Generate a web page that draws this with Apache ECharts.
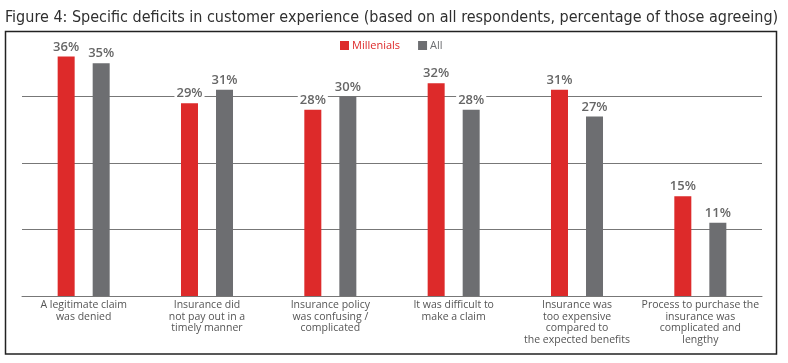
<!DOCTYPE html>
<html><head><meta charset="utf-8">
<script src="https://cdn.jsdelivr.net/npm/echarts@6/dist/echarts.min.js"></script>
<style>html,body{margin:0;padding:0;background:#fff}#c{width:788px;height:363px}</style>
</head><body><div id="c"></div>
<script>
const titleText = 'Figure 4: Specific deficits in customer experience (based on all respondents, percentage of those agreeing)';
const categories = [
  'A legitimate claim\nwas denied',
  'Insurance did\nnot pay out in a\ntimely manner',
  'Insurance policy\nwas confusing /\ncomplicated',
  'It was difficult to\nmake a claim',
  'Insurance was\ntoo expensive\ncompared to\nthe expected benefits',
  'Process to purchase the\ninsurance was\ncomplicated and\nlengthy'
];
const seriesNames = ['Millenials', 'All'];
const millenials = [36, 29, 28, 32, 31, 15];
const allResp = [35, 31, 30, 28, 27, 11];

const RED = '#dd2a2a', GRAY = '#6d6e71';
const chart = echarts.init(document.getElementById('c'), null, {renderer: 'canvas'});
const lbl = {
  show: true, position: 'top', distance: 3,
  formatter: '{c}%', color: '#666', fontFamily: 'Open Sans', fontWeight: 600, fontSize: 13,
  backgroundColor: '#fff', padding: [0, 2, 0, 2]
};
chart.setOption({
  animation: false,
  title: {
    text: titleText, left: 0, top: 5, padding: [5, 5, 5, 5],
    textStyle: {fontFamily: "'DejaVu Sans Condensed','Liberation Sans Narrow',Roboto", fontWeight: 'normal', fontSize: 16, color: '#2f2f2f'}
  },
  graphic: [{
    type: 'rect', z: -1, silent: true,
    shape: {x: 5.5, y: 31.5, width: 771, height: 322.5},
    style: {fill: 'none', stroke: '#222', lineWidth: 1.5}
  }],
  legend: {
    left: 335, top: 35, icon: 'rect', itemWidth: 9, itemHeight: 9, itemGap: 18,
    textStyle: {fontFamily: 'Open Sans', fontSize: 11, padding: [0, 0, 0, -2]},
    data: [
      {name: seriesNames[0], textStyle: {color: RED}},
      {name: seriesNames[1], textStyle: {color: GRAY}}
    ]
  },
  grid: {left: 22, right: 26, top: 30, bottom: 67},
  xAxis: {
    type: 'category', data: categories,
    axisLine: {lineStyle: {color: '#777', width: 1}},
    axisTick: {show: false},
    axisLabel: {interval: 0, margin: 3, color: '#555', fontFamily: 'Open Sans', fontSize: 10.5, lineHeight: 11.7}
  },
  yAxis: {
    type: 'value', min: 0, max: 40, interval: 10,
    axisLabel: {show: false}, axisLine: {show: false}, axisTick: {show: false},
    splitLine: {lineStyle: {color: ['#777', '#777', '#777', '#777', 'rgba(0,0,0,0)'], width: 1}}
  },
  series: [
    {name: seriesNames[0], type: 'bar', data: millenials, barWidth: 17, barGap: '106%', itemStyle: {color: RED}, label: lbl},
    {name: seriesNames[1], type: 'bar', data: allResp, barWidth: 17, itemStyle: {color: GRAY}, label: lbl}
  ]
});
</script></body></html>
